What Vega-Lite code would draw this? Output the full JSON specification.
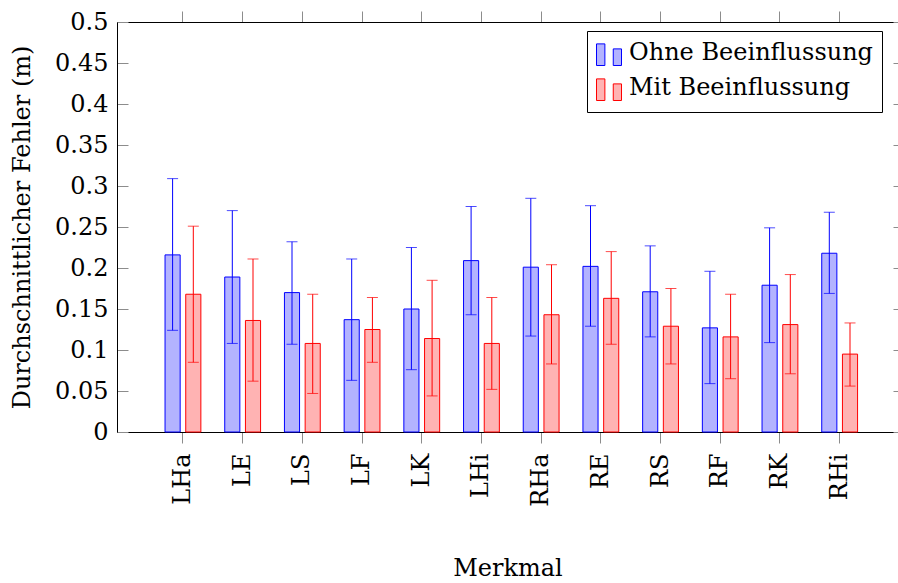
{
  "$schema": "https://vega.github.io/schema/vega-lite/v6.json",
  "width": 781,
  "height": 410,
  "autosize": {"type": "none"},
  "padding": {"left": 117, "top": 22, "right": 0, "bottom": 151},
  "background": "white",
  "config": {
    "font": "DejaVu Serif",
    "view": {"stroke": null},
    "axis": {
      "grid": false,
      "labelColor": "black",
      "titleColor": "black",
      "labelFontSize": 24,
      "titleFontSize": 24,
      "titleFontWeight": "normal",
      "domainColor": "black",
      "domainWidth": 1,
      "tickColor": "#8c8c8c",
      "tickWidth": 1,
      "labelOverlap": false
    }
  },
  "data": {
    "values": [
      {"Merkmal": "LHa", "Gruppe": "Ohne Beeinflussung", "Fehler": 0.216, "Unten": 0.124, "Oben": 0.309},
      {"Merkmal": "LHa", "Gruppe": "Mit Beeinflussung", "Fehler": 0.168, "Unten": 0.085, "Oben": 0.251},
      {"Merkmal": "LE", "Gruppe": "Ohne Beeinflussung", "Fehler": 0.189, "Unten": 0.108, "Oben": 0.270},
      {"Merkmal": "LE", "Gruppe": "Mit Beeinflussung", "Fehler": 0.136, "Unten": 0.062, "Oben": 0.211},
      {"Merkmal": "LS", "Gruppe": "Ohne Beeinflussung", "Fehler": 0.170, "Unten": 0.107, "Oben": 0.232},
      {"Merkmal": "LS", "Gruppe": "Mit Beeinflussung", "Fehler": 0.108, "Unten": 0.047, "Oben": 0.168},
      {"Merkmal": "LF", "Gruppe": "Ohne Beeinflussung", "Fehler": 0.137, "Unten": 0.063, "Oben": 0.211},
      {"Merkmal": "LF", "Gruppe": "Mit Beeinflussung", "Fehler": 0.125, "Unten": 0.085, "Oben": 0.164},
      {"Merkmal": "LK", "Gruppe": "Ohne Beeinflussung", "Fehler": 0.150, "Unten": 0.076, "Oben": 0.225},
      {"Merkmal": "LK", "Gruppe": "Mit Beeinflussung", "Fehler": 0.114, "Unten": 0.044, "Oben": 0.185},
      {"Merkmal": "LHi", "Gruppe": "Ohne Beeinflussung", "Fehler": 0.209, "Unten": 0.143, "Oben": 0.275},
      {"Merkmal": "LHi", "Gruppe": "Mit Beeinflussung", "Fehler": 0.108, "Unten": 0.052, "Oben": 0.164},
      {"Merkmal": "RHa", "Gruppe": "Ohne Beeinflussung", "Fehler": 0.201, "Unten": 0.117, "Oben": 0.285},
      {"Merkmal": "RHa", "Gruppe": "Mit Beeinflussung", "Fehler": 0.143, "Unten": 0.083, "Oben": 0.204},
      {"Merkmal": "RE", "Gruppe": "Ohne Beeinflussung", "Fehler": 0.202, "Unten": 0.129, "Oben": 0.276},
      {"Merkmal": "RE", "Gruppe": "Mit Beeinflussung", "Fehler": 0.163, "Unten": 0.107, "Oben": 0.220},
      {"Merkmal": "RS", "Gruppe": "Ohne Beeinflussung", "Fehler": 0.171, "Unten": 0.116, "Oben": 0.227},
      {"Merkmal": "RS", "Gruppe": "Mit Beeinflussung", "Fehler": 0.129, "Unten": 0.083, "Oben": 0.175},
      {"Merkmal": "RF", "Gruppe": "Ohne Beeinflussung", "Fehler": 0.127, "Unten": 0.059, "Oben": 0.196},
      {"Merkmal": "RF", "Gruppe": "Mit Beeinflussung", "Fehler": 0.116, "Unten": 0.065, "Oben": 0.168},
      {"Merkmal": "RK", "Gruppe": "Ohne Beeinflussung", "Fehler": 0.179, "Unten": 0.109, "Oben": 0.249},
      {"Merkmal": "RK", "Gruppe": "Mit Beeinflussung", "Fehler": 0.131, "Unten": 0.071, "Oben": 0.192},
      {"Merkmal": "RHi", "Gruppe": "Ohne Beeinflussung", "Fehler": 0.218, "Unten": 0.169, "Oben": 0.268},
      {"Merkmal": "RHi", "Gruppe": "Mit Beeinflussung", "Fehler": 0.095, "Unten": 0.056, "Oben": 0.133}
    ]
  },
  "resolve": {"axis": {"x": "independent", "y": "independent"}},
  "layer": [
    {
      "mark": {"type": "bar", "strokeWidth": 1},
      "encoding": {
        "x": {
          "field": "Merkmal", "type": "nominal", "sort": null,
          "scale": {"paddingInner": 0.4, "paddingOuter": 0.741, "align": 0.543, "round": false},
          "axis": {
            "orient": "bottom", "title": "Merkmal", "tickSize": 11,
            "labelAngle": 270, "labelAlign": "right", "labelBaseline": "middle",
            "labelPadding": 10, "titlePadding": 50
          }
        },
        "xOffset": {
          "field": "Gruppe", "type": "nominal",
          "scale": {"domain": ["Ohne Beeinflussung", "Mit Beeinflussung"], "paddingInner": 0.27, "paddingOuter": 0, "round": false}
        },
        "y": {
          "field": "Fehler", "type": "quantitative",
          "scale": {"domain": [0, 0.5], "nice": false, "zero": true},
          "axis": {
            "orient": "left", "title": "Durchschnittlicher Fehler (m)",
            "values": [0, 0.05, 0.1, 0.15, 0.2, 0.25, 0.3, 0.35, 0.4, 0.45, 0.5],
            "format": "~g", "tickSize": -11, "labelPadding": 20, "titlePadding": 20
          }
        },
        "fill": {
          "field": "Gruppe", "type": "nominal",
          "scale": {"domain": ["Ohne Beeinflussung", "Mit Beeinflussung"], "range": ["#b3b3ff", "#ffb3b3"]},
          "legend": {
            "title": null, "orient": "none", "legendX": 470, "legendY": 9,
            "strokeColor": "black", "fillColor": "white", "padding": 9,
            "labelFontSize": 24, "labelColor": "black", "labelLimit": 0, "labelOffset": 7,
            "rowPadding": 7, "symbolSize": 625, "symbolStrokeWidth": 1,
            "symbolType": "M-1,-0.73H-0.33V1H-1Z M0.34,-0.33H1V1H0.34Z"
          }
        },
        "stroke": {
          "field": "Gruppe", "type": "nominal",
          "scale": {"domain": ["Ohne Beeinflussung", "Mit Beeinflussung"], "range": ["#0000ff", "#ff0000"]},
          "legend": {
            "title": null, "orient": "none", "legendX": 470, "legendY": 9,
            "strokeColor": "black", "fillColor": "white", "padding": 9,
            "labelFontSize": 24, "labelColor": "black", "labelLimit": 0, "labelOffset": 7,
            "rowPadding": 7, "symbolSize": 625, "symbolStrokeWidth": 1,
            "symbolType": "M-1,-0.73H-0.33V1H-1Z M0.34,-0.33H1V1H0.34Z"
          }
        }
      }
    },
    {
      "mark": {"type": "rule", "strokeWidth": 1},
      "encoding": {
        "x": {"field": "Merkmal", "type": "nominal", "sort": null, "axis": null},
        "xOffset": {"field": "Gruppe", "type": "nominal"},
        "y": {
          "field": "Unten", "type": "quantitative",
          "axis": {
            "orient": "right", "title": null, "labels": false, "domain": false,
            "values": [0, 0.05, 0.1, 0.15, 0.2, 0.25, 0.3, 0.35, 0.4, 0.45, 0.5],
            "tickSize": -11, "offset": 6
          }
        },
        "y2": {"field": "Oben"},
        "color": {
          "field": "Gruppe", "type": "nominal",
          "scale": {"domain": ["Ohne Beeinflussung", "Mit Beeinflussung"], "range": ["#0000ff", "#ff0000"]},
          "legend": null
        }
      }
    },
    {
      "mark": {"type": "tick", "size": 11, "thickness": 1},
      "encoding": {
        "x": {
          "field": "Merkmal", "type": "nominal", "sort": null,
          "axis": {"orient": "top", "title": null, "labels": false, "tickSize": 11}
        },
        "xOffset": {"field": "Gruppe", "type": "nominal"},
        "y": {"field": "Unten", "type": "quantitative", "axis": null},
        "color": {"field": "Gruppe", "type": "nominal", "legend": null}
      }
    },
    {
      "mark": {"type": "tick", "size": 11, "thickness": 1},
      "encoding": {
        "x": {"field": "Merkmal", "type": "nominal", "sort": null, "axis": null},
        "xOffset": {"field": "Gruppe", "type": "nominal"},
        "y": {"field": "Oben", "type": "quantitative", "axis": null},
        "color": {"field": "Gruppe", "type": "nominal", "legend": null}
      }
    }
  ]
}
